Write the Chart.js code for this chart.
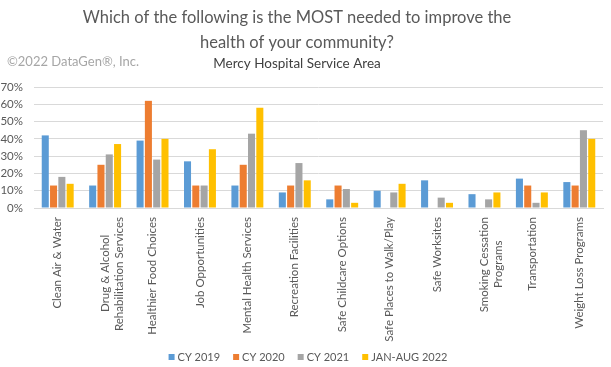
<!DOCTYPE html>
<html>
<head>
<meta charset="utf-8">
<script src="https://cdn.jsdelivr.net/npm/chart.js@4.4.0/dist/chart.umd.min.js"></script>
<style>
  html, body { margin: 0; padding: 0; background: #fff; }
  #wrap { width: 611px; height: 367px; position: relative; }
</style>
</head>
<body>
<div id="wrap"><canvas id="chart" width="611" height="367"></canvas></div>
<script>
// Dados do grafico
const categories = [
    'Clean Air & Water',
    ['Drug & Alcohol', 'Rehabilitation Services'],
    'Healthier Food Choices',
    'Job Opportunities',
    'Mental Health Services',
    'Recreation Facilities',
    'Safe Childcare Options',
    'Safe Places to Walk/Play',
    'Safe Worksites',
    ['Smoking Cessation', 'Programs'],
    'Transportation',
    'Weight Loss Programs'
];
const seriesNames = ['CY 2019', 'CY 2020', 'CY 2021', 'JAN-AUG 2022'];
const cy2019 = [42, 13, 39, 27, 13, 9, 5, 10, 16, 8, 17, 15];
const cy2020 = [13, 25, 62, 13, 25, 13, 13, 0, 0, 0, 13, 13];
const cy2021 = [18, 31, 28, 13, 43, 26, 11, 9, 6, 5, 3, 45];
const janAug2022 = [14, 37, 40, 34, 58, 16, 3, 14, 3, 9, 9, 40];
const yTicks = [0, 10, 20, 30, 40, 50, 60, 70];

const titleLines = ['Which of the following is the MOST needed to improve the', 'health of your community?'];
const subtitle = 'Mercy Hospital Service Area';
const copyright = '\u00A92022 DataGen\u00AE, Inc.';

const colors = ['#5B9BD5', '#ED7D31', '#A5A5A5', '#FFC000'];
const FONT = 'Lato, "Liberation Sans", sans-serif';
const TICK_SIZE = 11.5;

// canvas auxiliar para medir texto
const measureCtx = document.createElement('canvas').getContext('2d');

// centraliza as linhas de um rotulo de varias linhas (o Chart.js alinha tudo a direita)
function centerLines(lines) {
    measureCtx.font = TICK_SIZE + 'px ' + FONT;
    const widths = lines.map(l => measureCtx.measureText(l).width);
    const maxW = Math.max(...widths);
    const space = measureCtx.measureText(' ').width;
    return lines.map((l, i) => l + ' '.repeat(Math.round((maxW - widths[i]) / 2 / space)));
}

// Titulo, copyright e legenda desenhados a mao
const headerPlugin = {
    id: 'header',
    afterDraw(chart) {
        const ctx = chart.ctx;
        const cx = 297;
        ctx.save();
        ctx.textBaseline = 'middle';
        ctx.textAlign = 'center';
        ctx.fillStyle = '#595959';
        ctx.font = '16.5px ' + FONT;
        ctx.fillText(titleLines[0], cx, 18);
        ctx.fillText(titleLines[1], cx, 43);
        ctx.fillStyle = '#404040';
        ctx.font = '13.5px ' + FONT;
        ctx.fillText(subtitle, cx, 64);
        ctx.textAlign = 'left';
        ctx.fillStyle = '#a6a6a6';
        ctx.font = '13px ' + FONT;
        ctx.fillText(copyright, 7, 62);

        // legenda
        ctx.font = '11px ' + FONT;
        const box = 6, gapText = 3, gapItem = 13;
        const items = chart.data.datasets.map(ds => ({
            text: ds.label,
            color: ds.backgroundColor,
            w: box + gapText + ctx.measureText(ds.label).width
        }));
        const total = items.reduce((s, it) => s + it.w, 0) + gapItem * (items.length - 1);
        let x = 308 - total / 2;
        const y = 357;
        items.forEach(it => {
            ctx.fillStyle = it.color;
            ctx.fillRect(x, y - box / 2, box, box);
            ctx.fillStyle = '#595959';
            ctx.fillText(it.text, x + box + gapText, y);
            x += it.w + gapItem;
        });
        ctx.restore();
    }
};

const seriesData = [cy2019, cy2020, cy2021, janAug2022];

new Chart(document.getElementById('chart'), {
    type: 'bar',
    data: {
        labels: categories,
        datasets: seriesData.map((d, i) => ({
            label: seriesNames[i],
            data: d,
            backgroundColor: colors[i],
            borderWidth: 0,
            categoryPercentage: 0.7,
            barPercentage: 0.85
        }))
    },
    options: {
        responsive: false,
        animation: false,
        layout: { padding: { top: 87, right: 8, left: 0, bottom: 0 } },
        plugins: {
            legend: { display: false },
            tooltip: { enabled: false }
        },
        scales: {
            x: {
                grid: { display: false, drawTicks: false },
                border: { color: '#d9d9d9' },
                afterFit(axis) { axis.height = 159; },
                ticks: {
                    color: '#595959',
                    font: { family: FONT, size: TICK_SIZE },
                    maxRotation: 90,
                    minRotation: 90,
                    autoSkip: false,
                    padding: 9,
                    callback: function(value, index) {
                        const lbl = categories[index];
                        return Array.isArray(lbl) ? centerLines(lbl) : lbl;
                    }
                }
            },
            y: {
                min: 0,
                max: 70,
                afterBuildTicks(axis) {
                    axis.ticks = yTicks.map(v => ({ value: v }));
                },
                afterFit(axis) { axis.width = 34; },
                grid: { color: '#d9d9d9', drawTicks: false },
                border: { display: false },
                ticks: {
                    autoSkip: false,
                    color: '#595959',
                    font: { family: FONT, size: TICK_SIZE },
                    padding: 11,
                    callback: v => v + '%'
                }
            }
        }
    },
    plugins: [headerPlugin]
});
</script>
</body>
</html>
